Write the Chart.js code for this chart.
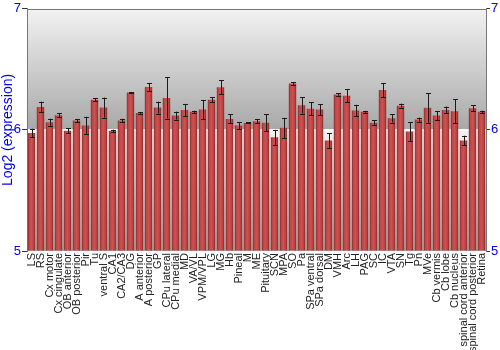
<!DOCTYPE html>
<html><head><meta charset="utf-8">
<script src="https://cdn.jsdelivr.net/npm/chart.js@4/dist/chart.umd.min.js"></script>
<style>html,body{margin:0;padding:0;background:#fff}#wrap{width:500px;height:350px}</style>
</head><body><div id="wrap"><canvas id="c" width="500" height="350"></canvas></div>
<script>
const categories = ["LS","RS","Cx motor","Cx cingulate","OB anterior","OB posterior","Pir","Tu","ventral S","CA1","CA2/CA3","DG","A anterior","A posterior","GP","CPu lateral","CPu medial","MD","VA/VL","VPM/VPL","LG","MG","Hb","Pineal","M","ME","Pituitary","SCN","MPA","SO","Pa","SPa ventral","SPa dorsal","DM","VMH","Arc","LH","PAG","SC","IC","VTA","SN","Tg","Pn","MVe","Cb vermis","Cb lobe","Cb nucleus","spinal cord anterior","spinal cord posterior","Retina"];
const values = [5.975,6.19,6.063,6.121,5.992,6.077,6.036,6.25,6.184,5.992,6.077,6.308,6.14,6.355,6.184,6.264,6.118,6.165,6.149,6.168,6.25,6.352,6.091,6.036,6.058,6.071,6.06,5.939,6.017,6.383,6.203,6.174,6.168,5.912,6.292,6.283,6.16,6.149,6.06,6.33,6.096,6.2,5.986,6.085,6.182,6.118,6.165,6.154,5.912,6.179,6.149];
const errors = [0.035,0.043,0.03,0.015,0.02,0.012,0.073,0.01,0.083,0.01,0.015,0.005,0.008,0.033,0.05,0.17,0.033,0.05,0.01,0.08,0.02,0.056,0.037,0.03,0.005,0.015,0.07,0.062,0.083,0.012,0.068,0.054,0.045,0.062,0.01,0.055,0.048,0.008,0.021,0.058,0.035,0.017,0.08,0.017,0.123,0.036,0.028,0.1,0.04,0.023,0.01];
const yTicks = [5,6,7];

const bgPlugin = {
  id:'bg',
  beforeDraw(chart){
    const {ctx, chartArea:a, scales:{y}} = chart;
    ctx.save();
    for (let i=0;i<yTicks.length-1;i++){
      const yb = y.getPixelForValue(yTicks[i]);
      const yt = y.getPixelForValue(yTicks[i+1]);
      const g = ctx.createLinearGradient(0,yt,0,yb);
      g.addColorStop(0,'#f2f2f2');
      g.addColorStop(1,'#a8a8a8');
      ctx.fillStyle = g;
      ctx.fillRect(a.left,yt,a.right-a.left,yb-yt);
    }
    ctx.strokeStyle='rgba(255,255,255,0.9)';
    ctx.lineWidth=2;
    yTicks.slice(1,-1).forEach(v=>{
      const p=Math.round(y.getPixelForValue(v));
      ctx.beginPath();ctx.moveTo(a.left,p);ctx.lineTo(a.right,p);ctx.stroke();
    });
    ctx.restore();
  }
};

const errPlugin = {
  id:'err',
  afterDatasetsDraw(chart){
    const {ctx, scales:{x,y}} = chart;
    ctx.save();
    ctx.strokeStyle='#1a1a1a';
    ctx.lineWidth=1;
    values.forEach((v,i)=>{
      const px = Math.round(x.getPixelForValue(i))+0.5;
      const top = y.getPixelForValue(v+errors[i]);
      const bot = y.getPixelForValue(v-errors[i]);
      ctx.beginPath();
      ctx.moveTo(px,top);ctx.lineTo(px,bot);
      ctx.moveTo(px-2.5,Math.round(top)+0.5);ctx.lineTo(px+2.5,Math.round(top)+0.5);
      ctx.moveTo(px-2.5,Math.round(bot)+0.5);ctx.lineTo(px+2.5,Math.round(bot)+0.5);
      ctx.stroke();
    });
    ctx.restore();
  }
};

function barColor(c){
  const chart=c.chart;
  if(!chart.chartArea) return '#c04444';
  const x=chart.scales.x;
  const cx=x.getPixelForValue(c.dataIndex);
  const w=x.width/categories.length*0.82;
  const g=chart.ctx.createLinearGradient(cx-w/2,0,cx+w/2,0);
  g.addColorStop(0,'#8c2828');
  g.addColorStop(0.22,'#c04646');
  g.addColorStop(0.5,'#cc5252');
  g.addColorStop(0.78,'#bc4242');
  g.addColorStop(1,'#8a2626');
  return g;
}

new Chart(document.getElementById('c'),{
  type:'bar',
  data:{labels:categories,datasets:[{data:values,base:5,backgroundColor:barColor,borderWidth:0,categoryPercentage:1,barPercentage:0.82}]},
  options:{
    responsive:false,animation:false,
    layout:{padding:{top:2,right:0,left:0,bottom:0}},
    plugins:{legend:{display:false},tooltip:{enabled:false}},
    scales:{
      x:{
        grid:{display:false,drawTicks:false},
        border:{display:false},
        ticks:{autoSkip:false,maxRotation:90,minRotation:90,color:'#222',font:{family:'Liberation Sans, Arial',size:11},padding:2},
        afterFit(s){s.height=99;}
      },
      y:{
        min:5,max:7,
        afterBuildTicks(s){s.ticks=yTicks.map(v=>({value:v}));},
        grid:{display:true,drawOnChartArea:false,drawTicks:true,tickLength:5,color:'#333'},
        border:{display:true,color:'#777',width:1},
        ticks:{color:'#0000ee',font:{family:'Liberation Sans, Arial',size:13},padding:1},
        title:{display:true,text:'Log2 (expression)',color:'#0000ee',font:{family:'Liberation Sans, Arial',size:14},padding:0},
        afterFit(s){s.width=27;}
      },
      y2:{
        position:'right',min:5,max:7,
        afterBuildTicks(s){s.ticks=yTicks.map(v=>({value:v}));},
        grid:{display:true,drawOnChartArea:false,drawTicks:true,tickLength:4,color:'#333'},
        border:{display:true,color:'#777',width:1},
        ticks:{color:'#0000ee',font:{family:'Liberation Sans, Arial',size:13},padding:1},
        afterFit(s){s.width=14;}
      }
    }
  },
  plugins:[bgPlugin,errPlugin,{
    id:'topline',
    afterDraw(chart){
      const {ctx,chartArea:a}=chart;
      ctx.save();ctx.strokeStyle='#777';ctx.lineWidth=1;
      ctx.beginPath();ctx.moveTo(a.left,Math.round(a.top)+0.5);ctx.lineTo(a.right,Math.round(a.top)+0.5);ctx.stroke();
      ctx.restore();
    }
  }]
});
</script></body></html>
